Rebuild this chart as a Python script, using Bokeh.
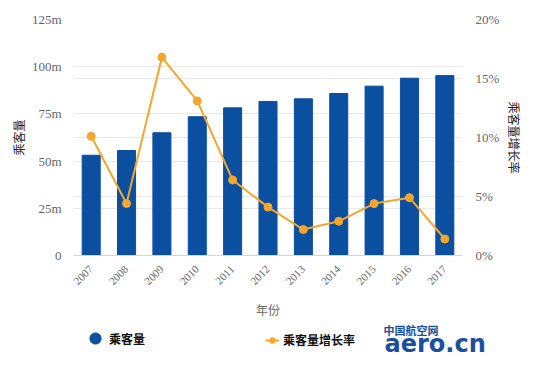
import math
from bokeh.plotting import figure
from bokeh.layouts import column, row
from bokeh.models import (FactorRange, Range1d, LinearAxis, FixedTicker, Legend,
                          LegendItem, Label, Grid)
from bokeh.embed import file_html
from bokeh.resources import INLINE

years = ["2007", "2008", "2009", "2010", "2011", "2012", "2013", "2014", "2015", "2016", "2017"]
passengers = [53.1, 55.6, 65.0, 73.5, 78.2, 81.6, 83.0, 85.8, 89.7, 93.9, 95.3]  # millions
growth = [10.1, 4.4, 16.8, 13.1, 6.4, 4.1, 2.2, 2.9, 4.4, 4.9, 1.4]  # percent
left_ticks = [0, 25, 50, 75, 100, 125]
left_tick_labels = ["0", "25m", "50m", "75m", "100m", "125m"]
right_ticks = [0, 5, 10, 15, 20]
right_tick_labels = ["0%", "5%", "10%", "15%", "20%"]

BLUE = "#0b4fa0"
ORANGE = "#f5a62e"
GRID = "#e9e9e9"
TICK_COLOR = "#666666"
SERIF = "Liberation Serif"
CJK = "Noto Sans CJK SC"

p = figure(frame_width=389, frame_height=236, x_range=FactorRange(*years), y_range=Range1d(0, 125),
           output_backend="svg", toolbar_location=None,
           min_border_left=73, min_border_right=58, min_border_top=19, min_border_bottom=64)
p.extra_y_ranges = {"rate": Range1d(0, 20)}
p.outline_line_color = None

# left axis
ly = p.yaxis[0]
ly.ticker = FixedTicker(ticks=left_ticks)
ly.major_label_overrides = dict(zip(left_ticks, left_tick_labels))
ly.axis_line_color = None
ly.major_tick_line_color = None
ly.minor_tick_line_color = None
ly.major_label_text_font = SERIF
ly.major_label_text_font_size = "13px"
ly.major_label_text_color = TICK_COLOR
ly.major_label_standoff = 6
ly.axis_label = "乘客量"
ly.axis_label_text_font = CJK
ly.axis_label_text_font_size = "12px"
ly.axis_label_text_font_style = "normal"
ly.axis_label_text_color = "#222222"
ly.axis_label_standoff = 2

# right axis
ry = LinearAxis(y_range_name="rate", ticker=FixedTicker(ticks=right_ticks))
ry.major_label_overrides = dict(zip(right_ticks, right_tick_labels))
ry.axis_line_color = None
ry.major_tick_line_color = None
ry.minor_tick_line_color = None
ry.major_label_text_font = SERIF
ry.major_label_text_font_size = "13px"
ry.major_label_text_color = TICK_COLOR
ry.major_label_standoff = 7
ry.axis_label = "乘客量增长率"
ry.axis_label_text_font = CJK
ry.axis_label_text_font_size = "12px"
ry.axis_label_text_font_style = "normal"
ry.axis_label_text_color = "#222222"
ry.axis_label_standoff = 4
p.add_layout(ry, "right")

# x axis
xa = p.xaxis[0]
xa.axis_line_color = "#ccd6eb"
xa.major_tick_line_color = None
xa.minor_tick_line_color = None
xa.major_label_orientation = math.pi / 4
xa.major_label_text_font = SERIF
xa.major_label_text_font_size = "11px"
xa.major_label_text_color = TICK_COLOR
xa.major_label_standoff = 6
xa.axis_label = "年份"
xa.axis_label_text_font = CJK
xa.axis_label_text_font_size = "12px"
xa.axis_label_text_font_style = "normal"
xa.axis_label_text_color = TICK_COLOR
xa.axis_label_standoff = 10

# grids
p.xgrid.visible = False
p.ygrid[0].grid_line_color = GRID
p.ygrid[0].ticker = ly.ticker
p.add_layout(Grid(dimension=1, ticker=ry.ticker, y_range_name="rate", grid_line_color=GRID))

# data
p.vbar(x=years, top=passengers, width=0.51, color=BLUE)
p.line(x=years, y=growth, y_range_name="rate", line_color=ORANGE, line_width=2)
p.scatter(x=years, y=growth, y_range_name="rate", size=8, color=ORANGE)

# bottom strip: legend and watermark
q = figure(width=520, height=38, x_range=FactorRange(*years), y_range=Range1d(0, 38),
           output_backend="svg", toolbar_location=None, x_axis_type=None, y_axis_type=None,
           min_border_left=73, min_border_right=0, min_border_top=0, min_border_bottom=0)
q.outline_line_color = None
q.xgrid.visible = False
q.ygrid.visible = False

leg_circle = q.scatter(x=years, y=passengers, size=12, color=BLUE, visible=False)
leg_line = q.line(x=years, y=growth, line_color=ORANGE, line_width=2, visible=False)
leg_dot = q.scatter(x=years, y=growth, size=6, color=ORANGE, visible=False)

leg1 = Legend(items=[LegendItem(label="乘客量", renderers=[leg_circle])],
              location=(8, 7), orientation="horizontal", glyph_width=28, glyph_height=28,
              label_standoff=-6, padding=0, margin=0, border_line_color=None,
              background_fill_alpha=0, label_text_font=CJK, label_text_font_size="12px",
              label_text_font_style="bold", label_text_color="#111111")
leg2 = Legend(items=[LegendItem(label="乘客量增长率", renderers=[leg_line, leg_dot])],
              location=(192, 11), orientation="horizontal", glyph_width=14, glyph_height=14,
              label_standoff=4, padding=0, margin=0, border_line_color=None,
              background_fill_alpha=0, label_text_font=CJK, label_text_font_size="12px",
              label_text_font_style="bold", label_text_color="#111111")
q.add_layout(leg1)
q.add_layout(leg2)

q.add_layout(Label(x=310, y=38, x_units="screen", y_units="screen", text="中国航空网",
                   text_font=CJK, text_font_size="11px", text_font_style="bold",
                   text_color="#1b4fa0", text_baseline="top"))
q.add_layout(Label(x=311, y=16, x_units="screen", y_units="screen", text="aero.cn",
                   text_font="DejaVu Sans", text_font_size="24px", text_font_style="bold",
                   text_color="#1b4fa0", text_baseline="alphabetic"))

layout = column(p, row(q, spacing=0), spacing=0)
open("out.html", "w").write(file_html(layout, INLINE))
